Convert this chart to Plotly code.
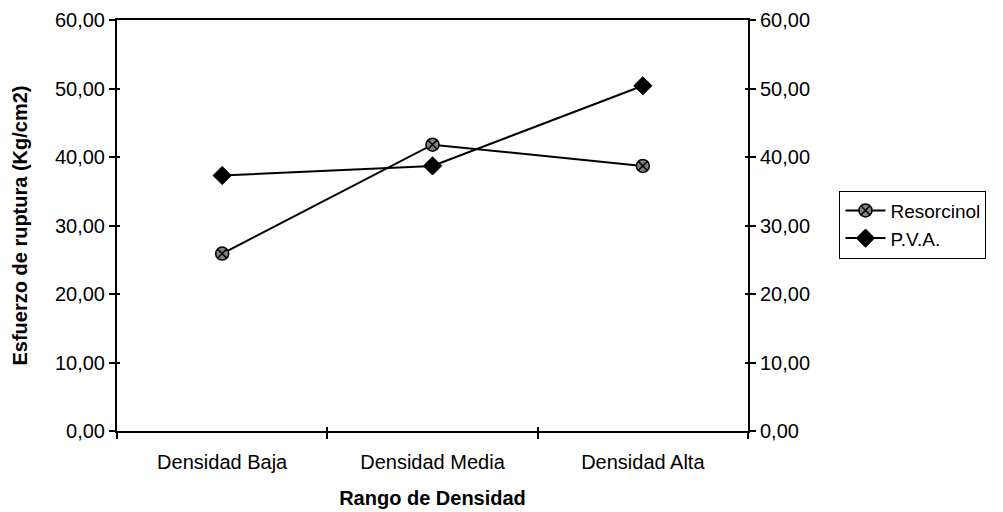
import plotly.graph_objects as go

categorias = ["Densidad Baja", "Densidad Media", "Densidad Alta"]
resorcinol = [25.9, 41.8, 38.7]
pva = [37.3, 38.7, 50.4]
y_ticks = [0, 10, 20, 30, 40, 50, 60]

FONT = "Liberation Sans, Arial, sans-serif"

fig = go.Figure()
fig.add_trace(go.Scatter(
    x=categorias, y=resorcinol, name="Resorcinol", mode="lines+markers",
    line=dict(color="black", width=2),
    marker=dict(symbol="circle-x", size=13, color="#808080",
                line=dict(color="black", width=1.5)),
))
fig.add_trace(go.Scatter(
    x=categorias, y=pva, name="P.V.A.", mode="lines+markers",
    line=dict(color="black", width=2),
    marker=dict(symbol="diamond", size=14, color="black",
                line=dict(color="black", width=1)),
))
# invisible traces to activate the helper axes (right axis, inner tick marks)
for xa, ya in [("x", "y2"), ("x2", "y3"), ("x2", "y4")]:
    fig.add_trace(go.Scatter(x=categorias, y=pva, xaxis=xa, yaxis=ya, showlegend=False,
                             mode="markers", marker=dict(opacity=0), hoverinfo="skip"))

common_y = dict(range=[0, 60], tickvals=y_ticks, tickformat=".2f", showgrid=False,
                zeroline=False, tickcolor="black", tickwidth=1.5, automargin=False)

fig.update_layout(
    width=1003, height=512,
    margin=dict(l=117, r=255, t=20, b=81),
    paper_bgcolor="white", plot_bgcolor="white",
    separators=",.",
    font=dict(family=FONT, size=20, color="black"),
    showlegend=True,
    legend=dict(x=1.145, y=0.585, xanchor="left", yanchor="top",
                bordercolor="black", borderwidth=1, bgcolor="white",
                font=dict(size=19), tracegroupgap=0, itemwidth=40),
    xaxis=dict(
        type="category", range=[-0.5, 2.5], showline=True, linecolor="black",
        linewidth=2, mirror=True, ticks="outside", tickson="boundaries",
        ticklen=6, tickcolor="black", tickwidth=1.5, showgrid=False, zeroline=False,
        ticklabelstandoff=12, automargin=False,
        title=dict(text="<b>Rango de Densidad</b>", font=dict(size=20), standoff=19),
    ),
    xaxis2=dict(
        type="category", range=[-0.5, 2.5], overlaying="x", side="bottom",
        showline=False, ticks="inside", tickson="boundaries", ticklen=4,
        tickcolor="black", tickwidth=1.5, showticklabels=False, showgrid=False,
        zeroline=False, automargin=False,
    ),
    yaxis=dict(
        **common_y, showline=True, linecolor="black", linewidth=2,
        ticks="outside", ticklen=6,
        title=dict(text="<b>Esfuerzo de ruptura (Kg/cm2)</b>", font=dict(size=20), standoff=22),
    ),
    yaxis2=dict(
        **common_y, overlaying="y", side="right", showline=True, linecolor="black",
        linewidth=2, ticks="outside", ticklen=6,
    ),
    yaxis3=dict(
        **common_y, overlaying="y", side="left", showline=False, ticks="inside",
        ticklen=3, showticklabels=False,
    ),
    yaxis4=dict(
        **common_y, overlaying="y", side="right", showline=False, ticks="inside",
        ticklen=3, showticklabels=False,
    ),
)

fig.write_html("out.html")
